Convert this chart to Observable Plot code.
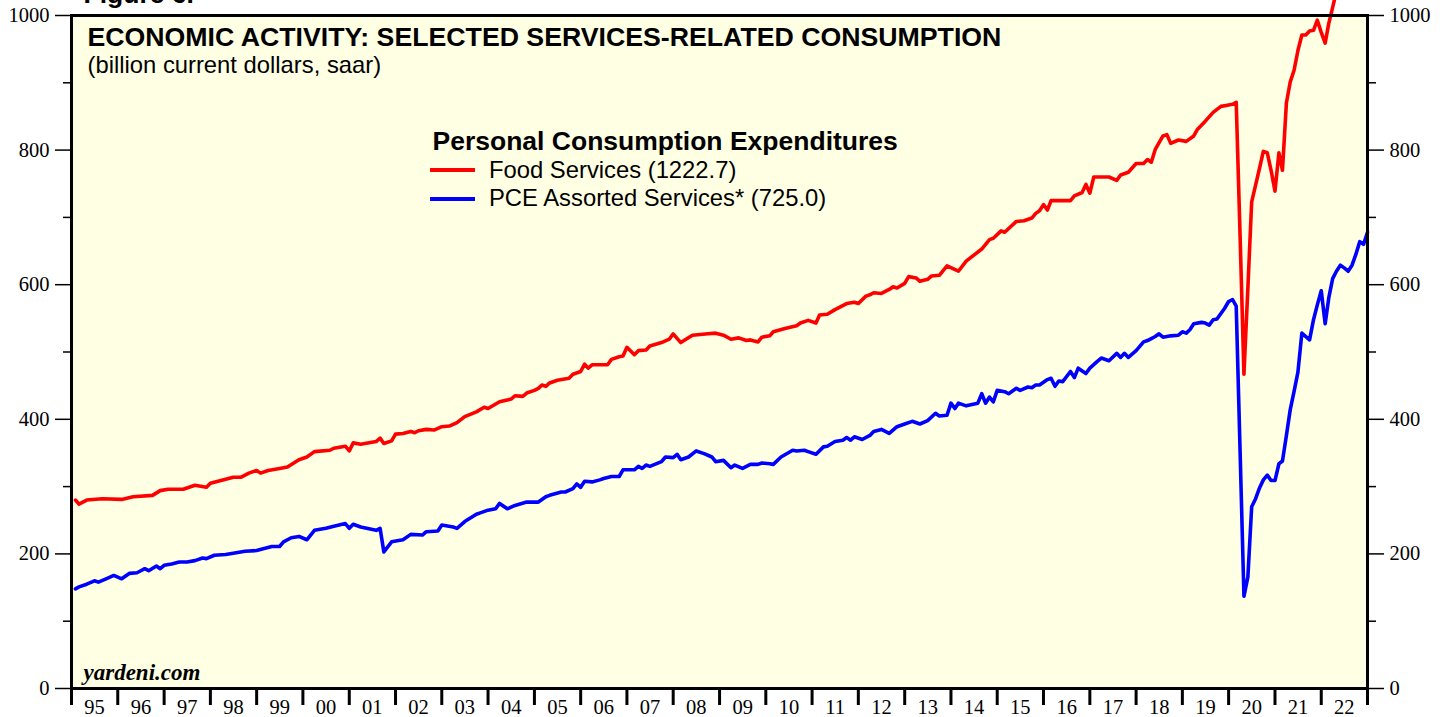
<!DOCTYPE html>
<html>
<head>
<meta charset="utf-8">
<script src="https://cdn.jsdelivr.net/npm/d3@7"></script>
<script src="https://cdn.jsdelivr.net/npm/@observablehq/plot@0.6"></script>
<style>
  html, body { margin: 0; padding: 0; background: #ffffff; }
  #chart svg { display: block; max-width: none; }
</style>
</head>
<body>
<div id="chart"></div>
<script>
// ---- Data (billion current dollars, saar), month = "YYYY-MM" ----
const foodServices = [
  ["1995-01",280],["1995-02",274],["1995-04",280],["1995-08",282],["1996-01",281],["1996-04",285],["1996-09",287],["1996-11",294],
  ["1997-01",296],["1997-05",296],["1997-08",302],["1997-11",299],["1997-12",305],["1998-06",314],["1998-08",314],["1998-10",320],
  ["1998-12",324],["1999-01",320],["1999-03",324],["1999-06",327],["1999-08",329],["1999-11",340],["2000-01",344],["2000-03",352],
  ["2000-07",354],["2000-08",357],["2000-11",360],["2000-12",353],["2001-01",365],["2001-03",363],["2001-07",367],["2001-08",372],
  ["2001-09",364],["2001-11",368],["2001-12",378],["2002-02",379],["2002-04",382],["2002-05",380],["2002-06",383],["2002-08",385],
  ["2002-10",384],["2002-12",389],["2003-02",390],["2003-04",395],["2003-06",404],["2003-09",411],["2003-11",418],["2003-12",416],
  ["2004-03",426],["2004-06",430],["2004-07",435],["2004-09",434],["2004-10",439],["2004-12",443],["2005-01",446],["2005-02",451],
  ["2005-03",449],["2005-04",454],["2005-06",458],["2005-09",461],["2005-10",467],["2005-12",471],["2006-01",482],["2006-02",476],
  ["2006-03",481],["2006-07",481],["2006-08",489],["2006-10",493],["2006-11",494],["2006-12",507],["2007-02",496],["2007-03",502],
  ["2007-05",503],["2007-06",509],["2007-09",514],["2007-11",519],["2007-12",527],["2008-02",514],["2008-05",525],["2008-09",527],
  ["2008-11",528],["2009-01",525],["2009-03",519],["2009-05",521],["2009-07",517],["2009-08",518],["2009-10",515],["2009-11",522],
  ["2010-01",524],["2010-02",530],["2010-05",535],["2010-08",539],["2010-09",543],["2010-11",547],["2011-01",543],["2011-02",555],
  ["2011-04",556],["2011-06",563],["2011-09",572],["2011-11",574],["2011-12",572],["2012-02",583],["2012-03",585],["2012-04",588],
  ["2012-06",587],["2012-08",593],["2012-09",597],["2012-10",595],["2012-12",602],["2013-01",612],["2013-03",610],["2013-04",605],
  ["2013-06",608],["2013-07",613],["2013-09",614],["2013-11",628],["2014-02",620],["2014-04",635],["2014-06",644],["2014-08",653],
  ["2014-10",667],["2014-11",669],["2015-01",680],["2015-02",678],["2015-05",694],["2015-07",695],["2015-09",699],["2015-10",706],
  ["2015-11",710],["2015-12",719],["2016-01",711],["2016-02",725],["2016-07",725],["2016-08",732],["2016-10",737],["2016-11",749],
  ["2016-12",736],["2017-01",760],["2017-05",760],["2017-07",755],["2017-08",763],["2017-10",767],["2017-12",780],["2018-02",780],
  ["2018-03",786],["2018-04",782],["2018-05",801],["2018-07",821],["2018-08",823],["2018-09",810],["2018-11",815],["2019-01",813],
  ["2019-03",821],["2019-04",831],["2019-06",843],["2019-08",856],["2019-10",865],["2019-11",866],["2019-12",867],["2020-01",868],
  ["2020-02",871],["2020-03",670],["2020-04",467],["2020-05",595],["2020-06",723],["2020-07",748],["2020-08",773],["2020-09",798],
  ["2020-10",796],["2020-11",770],["2020-12",739],["2021-01",796],["2021-02",770],["2021-03",870],["2021-04",901],["2021-05",919],
  ["2021-06",948],["2021-07",971],["2021-08",971],["2021-09",977],["2021-10",978],["2021-11",993],["2021-12",975],["2022-01",959],
  ["2022-02",988],["2022-03",1012],["2022-04",1036],["2022-05",1060]
];
const assortedServices = [
  ["1995-01",148],["1995-02",151],["1995-04",155],["1995-06",160],["1995-07",158],["1995-09",163],["1995-11",168],["1996-01",163],
  ["1996-03",171],["1996-05",172],["1996-06",175],["1996-07",178],["1996-08",175],["1996-10",182],["1996-11",178],["1996-12",183],
  ["1997-02",185],["1997-04",188],["1997-06",188],["1997-08",190],["1997-10",194],["1997-11",193],["1998-01",198],["1998-04",199],
  ["1998-06",201],["1998-09",204],["1998-12",205],["1999-02",208],["1999-04",211],["1999-06",211],["1999-07",218],["1999-09",224],
  ["1999-11",226],["2000-01",221],["2000-03",235],["2000-06",238],["2000-08",241],["2000-11",245],["2000-12",238],["2001-01",244],
  ["2001-03",240],["2001-07",235],["2001-08",238],["2001-09",203],["2001-11",218],["2002-02",221],["2002-04",229],["2002-07",228],
  ["2002-08",233],["2002-11",234],["2002-12",243],["2003-03",240],["2003-04",238],["2003-06",248],["2003-09",259],["2003-10",261],
  ["2003-12",265],["2004-02",267],["2004-03",275],["2004-05",267],["2004-07",272],["2004-10",277],["2005-01",277],["2005-03",285],
  ["2005-04",287],["2005-07",292],["2005-08",292],["2005-10",297],["2005-11",304],["2005-12",299],["2006-01",308],["2006-03",307],
  ["2006-05",310],["2006-06",312],["2006-08",315],["2006-10",315],["2006-11",325],["2007-02",325],["2007-03",330],["2007-04",327],
  ["2007-05",332],["2007-06",330],["2007-09",337],["2007-10",344],["2007-12",343],["2008-01",348],["2008-02",340],["2008-04",344],
  ["2008-06",353],["2008-08",349],["2008-10",344],["2008-11",337],["2009-01",339],["2009-03",328],["2009-04",332],["2009-06",327],
  ["2009-08",333],["2009-10",333],["2009-11",335],["2010-01",334],["2010-02",333],["2010-04",344],["2010-07",354],["2010-08",353],
  ["2010-10",354],["2010-11",352],["2011-01",348],["2011-03",359],["2011-04",360],["2011-06",367],["2011-08",369],["2011-09",373],
  ["2011-10",369],["2011-11",374],["2012-01",370],["2012-03",376],["2012-04",382],["2012-06",385],["2012-08",379],["2012-10",389],
  ["2012-12",393],["2013-02",397],["2013-04",393],["2013-06",398],["2013-08",409],["2013-09",405],["2013-11",406],["2013-12",424],
  ["2014-01",416],["2014-02",424],["2014-04",420],["2014-07",424],["2014-08",438],["2014-09",424],["2014-10",433],["2014-11",426],
  ["2014-12",443],["2015-02",441],["2015-03",438],["2015-05",446],["2015-06",443],["2015-08",448],["2015-09",447],["2015-10",451],
  ["2015-11",451],["2016-01",459],["2016-02",461],["2016-03",449],["2016-04",457],["2016-05",456],["2016-07",471],["2016-08",462],
  ["2016-09",476],["2016-11",468],["2016-12",476],["2017-02",486],["2017-03",491],["2017-05",487],["2017-07",498],["2017-08",492],
  ["2017-09",498],["2017-10",492],["2017-12",502],["2018-02",515],["2018-03",517],["2018-04",520],["2018-05",523],["2018-06",527],
  ["2018-07",522],["2018-09",524],["2018-11",525],["2018-12",530],["2019-01",528],["2019-02",533],["2019-03",542],["2019-05",544],
  ["2019-06",543],["2019-07",540],["2019-08",548],["2019-09",549],["2019-11",565],["2019-12",575],["2020-01",578],["2020-02",568],
  ["2020-03",350],["2020-04",137],["2020-05",166],["2020-06",270],["2020-07",282],["2020-08",298],["2020-09",310],["2020-10",317],
  ["2020-11",309],["2020-12",309],["2021-01",334],["2021-02",338],["2021-03",376],["2021-04",414],["2021-05",442],["2021-06",470],
  ["2021-07",528],["2021-08",523],["2021-09",518],["2021-10",548],["2021-11",570],["2021-12",591],["2022-01",542],["2022-02",580],
  ["2022-03",609],["2022-04",620],["2022-05",629],["2022-06",625],["2022-07",620],["2022-08",629],["2022-09",645],["2022-10",664],
  ["2022-11",660],["2022-12",678]
];
const yearLabels = ["95","96","97","98","99","00","01","02","03","04","05","06","07","08","09","10","11","12","13","14","15","16","17","18","19","20","21","22"];
const yMajorTicks = [0, 200, 400, 600, 800, 1000];
const yMinorTicks = [100, 300, 500, 700, 900];
const seriesNames = ["Food Services (1222.7)", "PCE Assorted Services* (725.0)"];
const seriesColors = ["#ff0000", "#0000ff"];
const legendTitle = "Personal Consumption Expenditures";
const chartTitle = "ECONOMIC ACTIVITY: SELECTED SERVICES-RELATED CONSUMPTION";
const chartSubtitle = "(billion current dollars, saar)";
const figureLabel = "Figure 6.";
const sourceNote = "yardeni.com";

// ---- helpers ----
const monthEnd = s => new Date(Date.UTC(+s.slice(0, 4), +s.slice(5, 7), 1));
const toRows = arr => arr.map(([m, v]) => ({date: monthEnd(m), value: v}));
const food = toRows(foodServices);
const assorted = toRows(assortedServices);
const firstYear = 1995;
const yearStarts = d3.range(firstYear, firstYear + yearLabels.length + 1).map(y => new Date(Date.UTC(y, 0, 1)));
const yearMids = yearLabels.map((_, i) => new Date(Date.UTC(firstYear + i, 6, 2)));

const W = 1447, H = 717;
const mL = 71, mR = 80, mT = 15, mB = 29;
const sans = "Liberation Sans, Arial, sans-serif";
const serif = "Liberation Serif, Times New Roman, serif";
const axisFont = 20.5;

const svg = Plot.plot({
  width: W,
  height: H,
  marginLeft: mL,
  marginRight: mR,
  marginTop: mT,
  marginBottom: mB,
  style: {background: "#ffffff", fontFamily: serif, fontSize: axisFont + "px", color: "#000"},
  x: {type: "utc", domain: [yearStarts[0], yearStarts[yearStarts.length - 1]]},
  y: {domain: [0, 1000]},
  marks: [
    Plot.frame({fill: "#ffffe4", stroke: null}),
    // y left
    Plot.axisY({anchor: "left", ticks: yMajorTicks, tickSize: 16, tickPadding: 6, strokeWidth: 1.5,
                tickFormat: d => String(d), fontSize: axisFont, fontFamily: serif, label: null}),
    Plot.axisY({anchor: "left", ticks: yMinorTicks, tickSize: 8, strokeWidth: 1.5, tickFormat: () => "", label: null}),
    // y right
    Plot.axisY({anchor: "right", ticks: yMajorTicks, tickSize: 16, tickPadding: 6, strokeWidth: 1.5,
                tickFormat: d => String(d), fontSize: axisFont, fontFamily: serif, label: null}),
    Plot.axisY({anchor: "right", ticks: yMinorTicks, tickSize: 8, strokeWidth: 1.5, tickFormat: () => "", label: null}),
    // x: year boundary ticks and centred year labels
    Plot.axisX({ticks: yearStarts, tickSize: 17, strokeWidth: 3, tickFormat: () => "", label: null}),
    Plot.axisX({ticks: yearMids, tickSize: 0, tickPadding: 10.5, fontSize: axisFont, fontFamily: serif,
                tickFormat: d => yearLabels[d.getUTCFullYear() - firstYear], label: null}),
    // series
    Plot.line(food, {x: "date", y: "value", stroke: seriesColors[0], strokeWidth: 3.6, strokeLinejoin: "round"}),
    Plot.line(assorted, {x: "date", y: "value", stroke: seriesColors[1], strokeWidth: 3.6, strokeLinejoin: "round"}),
    // texts
    Plot.text([figureLabel], {text: d => d, frameAnchor: "top-left", textAnchor: "start", lineAnchor: "bottom",
      dx: 12, dy: -13, fontFamily: sans, fontWeight: "bold", fontSize: 26.5, fill: "#000"}),
    Plot.text([chartTitle], {text: d => d, frameAnchor: "top-left", textAnchor: "start", lineAnchor: "bottom",
      dx: 16, dy: 30, fontFamily: sans, fontWeight: "bold", fontSize: 26.7, fill: "#000"}),
    Plot.text([chartSubtitle], {text: d => d, frameAnchor: "top-left", textAnchor: "start", lineAnchor: "bottom",
      dx: 16, dy: 57, fontFamily: sans, fontSize: 23.8, fill: "#000"}),
    Plot.text([legendTitle], {text: d => d, frameAnchor: "top-left", textAnchor: "start", lineAnchor: "bottom",
      dx: 361, dy: 134, fontFamily: sans, fontWeight: "bold", fontSize: 26.5, fill: "#000"}),
    Plot.text([sourceNote], {text: d => d, frameAnchor: "bottom-left", textAnchor: "start", lineAnchor: "bottom",
      dx: 12, dy: -9, fontFamily: serif, fontWeight: "bold", fontStyle: "italic", fontSize: 23, fill: "#000"}),
    Plot.frame({stroke: "#000", strokeWidth: 3})
  ]
});

// Legend rows (layout only): swatches + labels positioned relative to the frame
const leg = d3.select(svg).append("g").attr("aria-label", "legend").attr("text-anchor", "start");
const rowBaselines = [177.5, 206];
const rowLineY = [170, 199];
seriesNames.forEach((name, i) => {
  leg.append("line").attr("x1", mL + 359).attr("x2", mL + 404)
    .attr("y1", rowLineY[i]).attr("y2", rowLineY[i])
    .attr("stroke", seriesColors[i]).attr("stroke-width", 4);
  leg.append("text").attr("x", mL + 418).attr("y", rowBaselines[i])
    .attr("text-anchor", "start")
    .attr("font-family", sans).attr("font-size", 23.8).attr("fill", "#000").text(name);
});

document.getElementById("chart").appendChild(svg);
</script>
</body>
</html>
